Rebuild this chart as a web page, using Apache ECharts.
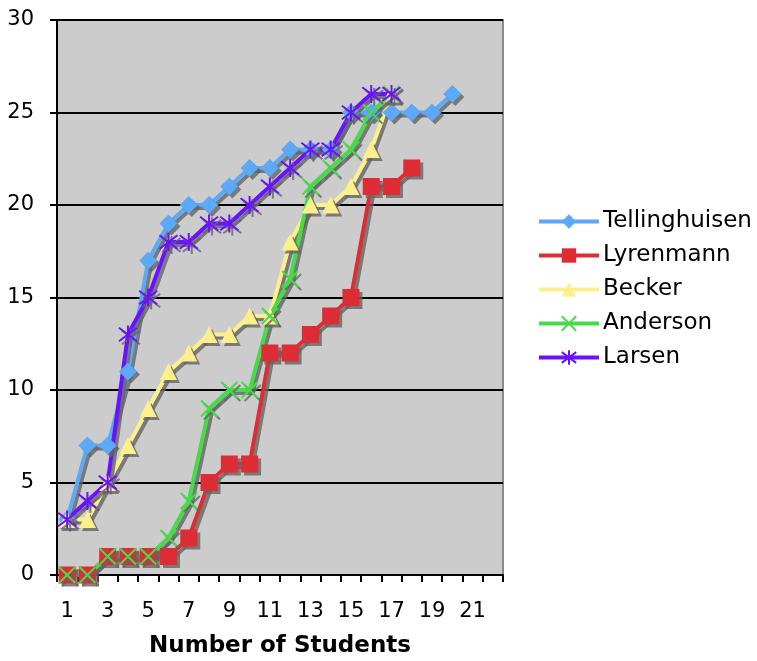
<!DOCTYPE html>
<html>
<head>
<meta charset="utf-8">
<script src="https://cdn.jsdelivr.net/npm/echarts@6/dist/echarts.min.js"></script>
<style>html,body{margin:0;padding:0;background:#fff;}#c{width:757px;height:661px;}</style>
</head>
<body>
<div id="c"></div>
<script>
const categories = ['1','2','3','4','5','6','7','8','9','10','11','12','13','14','15','16','17','18','19','20','21','22'];
const tellinghuisen = [3,7,7,11,17,19,20,20,21,22,22,23,23,23,25,25,25,25,25,26];
const lyrenmann = [0,0,1,1,1,1,2,5,6,6,12,12,13,14,15,21,21,22];
const becker = [3,3,5,7,9,11,12,13,13,14,14,18,20,20,21,23,26];
const anderson = [0,0,1,1,1,2,4,9,10,10,14,16,21,22,23,25,26];
const larsen = [3,4,5,13,15,18,18,19,19,20,21,22,23,23,25,26,26];
const yTicks = {min: 0, max: 30, interval: 5};

const FONT = 'DejaVu Sans';
const SH = {shadowColor: 'rgba(100,100,100,0.8)', shadowOffsetX: 3, shadowOffsetY: 3, shadowBlur: 0};

function mk(name, data, color, symbol, size, stroke) {
  return {
    name, type: 'line', data, symbol, symbolSize: size, showAllSymbol: true,
    lineStyle: Object.assign({color, width: 4}, SH),
    itemStyle: Object.assign({color, borderColor: color, borderWidth: stroke ? 2 : 0}, SH),
    emphasis: {disabled: true},
    animation: false
  };
}

const chart = echarts.init(document.getElementById('c'));
chart.setOption({
  animation: false,
  textStyle: {fontFamily: FONT},
  grid: {left: 57, right: 254, top: 20, bottom: 86, containLabel: false, outerBoundsMode: 'none',
         show: true, backgroundColor: '#cccccc', borderColor: '#8a8a8a', borderWidth: 2},
  legend: {
    orient: 'vertical', left: 532, top: 205,
    itemWidth: 60, itemHeight: 18, itemGap: 11,
    lineStyle: {width: 4},
    textStyle: {fontFamily: FONT, fontSize: 23, color: '#000', padding: [0,0,0,-1]},
    data: ['Tellinghuisen','Lyrenmann','Becker','Anderson','Larsen']
  },
  xAxis: {
    type: 'category', data: categories, boundaryGap: true,
    name: 'Number of Students', nameLocation: 'middle', nameGap: 60,
    nameTextStyle: {fontFamily: FONT, fontSize: 23, fontWeight: 'bold', color: '#000'},
    axisLine: {lineStyle: {color: '#000', width: 2}},
    axisTick: {show: true, length: 7, inside: false, lineStyle: {color: '#000', width: 2}, interval: 0},
    axisLabel: {interval: 1, fontSize: 21, color: '#000', margin: 26, fontFamily: FONT},
    splitLine: {show: false}
  },
  yAxis: {
    type: 'value', min: yTicks.min, max: yTicks.max, interval: yTicks.interval,
    axisLine: {show: true, lineStyle: {color: '#000', width: 2}},
    axisTick: {show: true, length: 7, lineStyle: {color: '#000', width: 2}},
    axisLabel: {fontSize: 21, color: '#000', margin: 23, fontFamily: FONT},
    splitLine: {show: true, lineStyle: {color: '#000', width: 2}}
  },
  series: [
    mk('Tellinghuisen', tellinghuisen, '#5ca9f7', 'diamond', 18, false),
    mk('Lyrenmann', lyrenmann, '#dd2c33', 'rect', 17, false),
    mk('Becker', becker, '#fbf08c', 'triangle', 17, false),
    mk('Anderson', anderson, '#45dc48', 'path://M0,0L16,16M16,0L0,16', 16, true),
    mk('Larsen', larsen, '#6a12ff', 'path://M8,0L8,16M1,2L15,14M15,2L1,14', 18, true)
  ]
});
</script>
</body>
</html>
